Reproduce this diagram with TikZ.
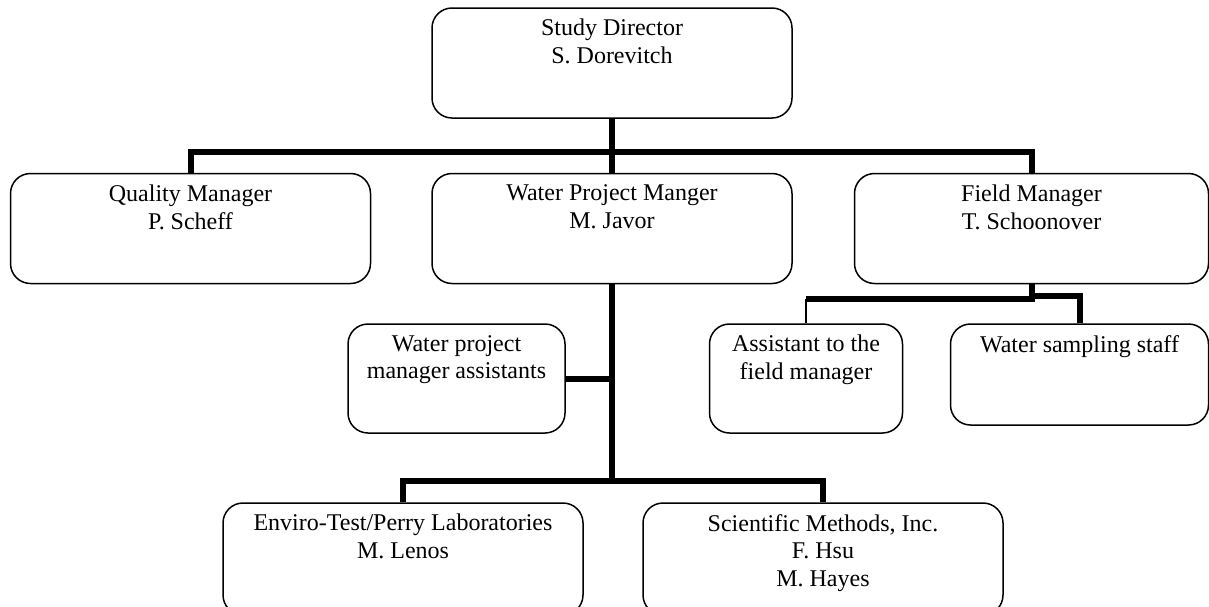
\documentclass[tikz,border=0pt]{standalone}
\usepackage{fontspec}
\setmainfont{Liberation Serif}
\usetikzlibrary{positioning,calc}

\begin{document}
\begin{tikzpicture}[
  every node/.style={font=\fontsize{12pt}{13.8pt}\selectfont},
  unit/.style={draw, line width=0.75pt, rounded corners=10pt, minimum width=180pt, minimum height=55pt},
  txt/.style={align=center, inner sep=0pt},
  bus/.style={line width=3pt},
  link/.style={line width=1pt}
]
\useasboundingbox (0,0) rectangle (604.5pt,-303pt);

% boxes
\node[unit] (director) at (306pt,-31.5pt) {};
\node[unit, below=27pt of director] (water) {};
\node[unit, left=30pt of water] (quality) {};
\node[unit, minimum width=177pt, right=30.5pt of water] (field) {};
\node[unit, minimum width=108.5pt, minimum height=54.5pt, below=19.5pt of water, xshift=-77.75pt] (wpassist) {};
\node[unit, minimum width=96.5pt, minimum height=54.5pt, below=19.5pt of field, xshift=-112.75pt] (fassist) {};
\node[unit, minimum width=129pt, minimum height=50.5pt, below=19.5pt of field, xshift=24pt] (sampling) {};
\node[unit, minimum height=56pt, below=109pt of water, xshift=-104.5pt] (enviro) {};
\node[unit, minimum height=56pt, below=109pt of water, xshift=105.5pt] (scimeth) {};

% texts
\node[txt, below=5.8pt of director.north] (director-t) {Study Director\\S. Dorevitch};
\node[txt, below=5.8pt of quality.north] (quality-t) {Quality Manager\\P. Scheff};
\node[txt, below=5.8pt of water.north] (water-t) {Water Project Manger\\M. Javor};
\node[txt, below=5.8pt of field.north] (field-t) {Field Manager\\T. Schoonover};
\node[txt, below=5.8pt of wpassist.north] (wpassist-t) {Water project\\manager assistants};
\node[txt, below=5.8pt of fassist.north] (fassist-t) {Assistant to the\\field manager};
\node[txt, below=5.8pt of sampling.north] (sampling-t) {Water sampling staff};
\node[txt, below=5.8pt of enviro.north] (enviro-t) {Enviro-Test/Perry Laboratories\\M. Lenos};
\node[txt, below=5.8pt of scimeth.north] (scimeth-t) {Scientific Methods, Inc.\\F. Hsu\\M. Hayes};

% connectors
\coordinate (topbus) at ($(director.south)+(0,-16.5pt)$);
\coordinate (lowbus) at ($(water.south)+(0,-98.5pt)$);
\coordinate (fbus) at ($(field.south)+(0,-7.5pt)$);

\draw[bus] (director) -- (water);
\draw[bus] (quality.north) -- (quality.north |- topbus) -- (field.north |- topbus) -- (field.north);
\draw[bus] (water.south) -- (lowbus);
\draw[bus] (enviro.north) |- (lowbus) -| (scimeth.north);
\draw[bus] (wpassist.east) -- (wpassist.east -| water.south);
\draw[bus] (field.south) -- (fbus) -- (fbus -| fassist.north);
\draw[link] (fbus -| fassist.north) -- (fassist.north);
\draw[bus] (field.south) -- ++(0,-6pt) -| (sampling.north);
\end{tikzpicture}
\end{document}
